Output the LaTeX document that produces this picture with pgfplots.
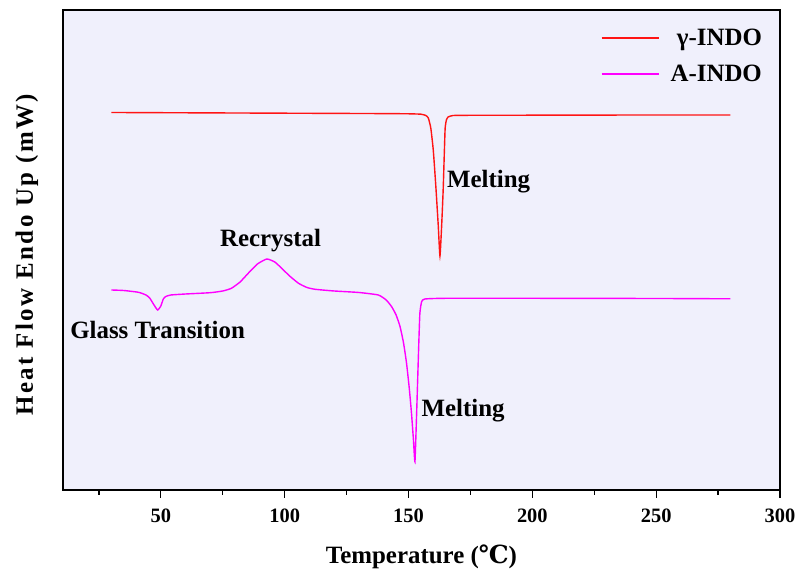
\documentclass[border=0pt]{standalone}
\usepackage{fontspec}
\setmainfont{Liberation Serif}
\newfontfamily\dejavu{DejaVu Serif}
\usepackage{pgfplots}
\pgfplotsset{compat=1.18}
\definecolor{bgc}{RGB}{240,240,252}
\definecolor{curvered}{RGB}{255,20,20}
\definecolor{curvemag}{RGB}{255,0,255}
\begin{document}
\begin{tikzpicture}
\begin{axis}[
  scale only axis,
  width=717bp, height=480bp,
  xmin=10.5, xmax=300, ymin=-490, ymax=-10,
  axis background/.style={fill=bgc},
  axis line style={line width=1.5bp},
  xtick={50,100,...,300},
  minor xtick={25,75,...,275},
  ytick=\empty,
  tick align=outside,
  xtick pos=bottom,
  major tick length=8bp, minor tick length=5bp,
  every tick/.style={black, line width=1.3bp},
  /pgf/number format/assume math mode=true,
  ticklabel style={font=\fontsize{20.5}{24}\selectfont\bfseries},
  xticklabel style={yshift=-7bp},
  xlabel={Temperature ({\dejavu ℃})},
  ylabel={\addfontfeature{LetterSpace=10}Heat Flow Endo Up (mW)},
  label style={font=\fontsize{25}{30}\selectfont\bfseries},
  xlabel style={at={(axis description cs:0.5,-0.1396)}, anchor=center},
  ylabel style={at={(axis description cs:-0.0502,0.49)}, anchor=center},
  legend cell align=right,
  legend image code/.code={\draw[#1] (0bp,0bp) -- (57bp,0bp); \path[draw=none] (0bp,0bp) -- (69bp,0bp);},
  legend style={draw=none, fill=none, at={(axis description cs:0.975,0.961)}, anchor=north east,
    font=\fontsize{25}{30}\selectfont\bfseries, inner sep=0pt,
    row sep=18bp,
    nodes={inner sep=0pt}},
  clip=false,
]
\addplot[curvered, line width=1.4bp, smooth, tension=0.3] coordinates {
(30,-112.5) (60,-112.8) (100,-113.2) (140,-113.6) (150,-113.8) (155,-114.2)
(157,-115.5) (158,-118) (159,-128) (160,-150) (161,-185) (162,-225) (162.7,-256)
(163.4,-225) (164,-190) (164.5,-150) (164.8,-128) (165.3,-120) (166,-117)
(168,-115.5) (175,-115.3) (200,-115.2) (250,-115.0) (280,-115.0)
};
\addlegendentry{γ-INDO}
\addplot[curvemag, line width=1.4bp, smooth, tension=0.3] coordinates {
(30,-290) (35,-290.5) (41,-292.3) (44,-295) (45.5,-298) (47,-304) (48.7,-310)
(50,-306) (51,-299) (52,-296.5) (54,-295) (60,-294) (70,-292.7) (75,-291)
(78.5,-288.3) (82,-282) (85.4,-273) (89,-264) (92.8,-259) (96,-262) (98.8,-268.3)
(102,-276) (105.6,-283.3) (109,-287.5) (112.3,-289.3) (120,-291) (130,-292.5)
(137.8,-295) (141,-300) (143.2,-306.7) (145,-315) (146.6,-326.7) (148,-343)
(149.2,-363) (150.3,-388) (151.2,-413) (152,-440) (152.6,-461.7) (153.2,-420)
(153.7,-380) (154.2,-340) (154.6,-313) (155.3,-301.7) (156.6,-299) (165,-298.3)
(200,-298.3) (250,-298.5) (280,-298.8)
};
\addlegendentry{A-INDO}
\draw[line width=2.8bp] (rel axis cs:1,0.454) -- (rel axis cs:1,0.546);
\begin{scope}[every node/.style={font=\fontsize{25}{30}\selectfont\bfseries, inner sep=0pt}]
\node[anchor=west] at (axis cs:165.5,-182) {Melting};
\node[anchor=center] at (axis cs:94.3,-241) {Recrystal};
\node[anchor=center] at (axis cs:48.7,-330) {Glass Transition};
\node[anchor=west] at (axis cs:155.2,-411) {Melting};
\end{scope}
\end{axis}
\pgfresetboundingbox
\path ([shift={(-63bp,-81bp)}]current axis.south west) rectangle ([shift={(16bp,10bp)}]current axis.north east);
\end{tikzpicture}
\end{document}
